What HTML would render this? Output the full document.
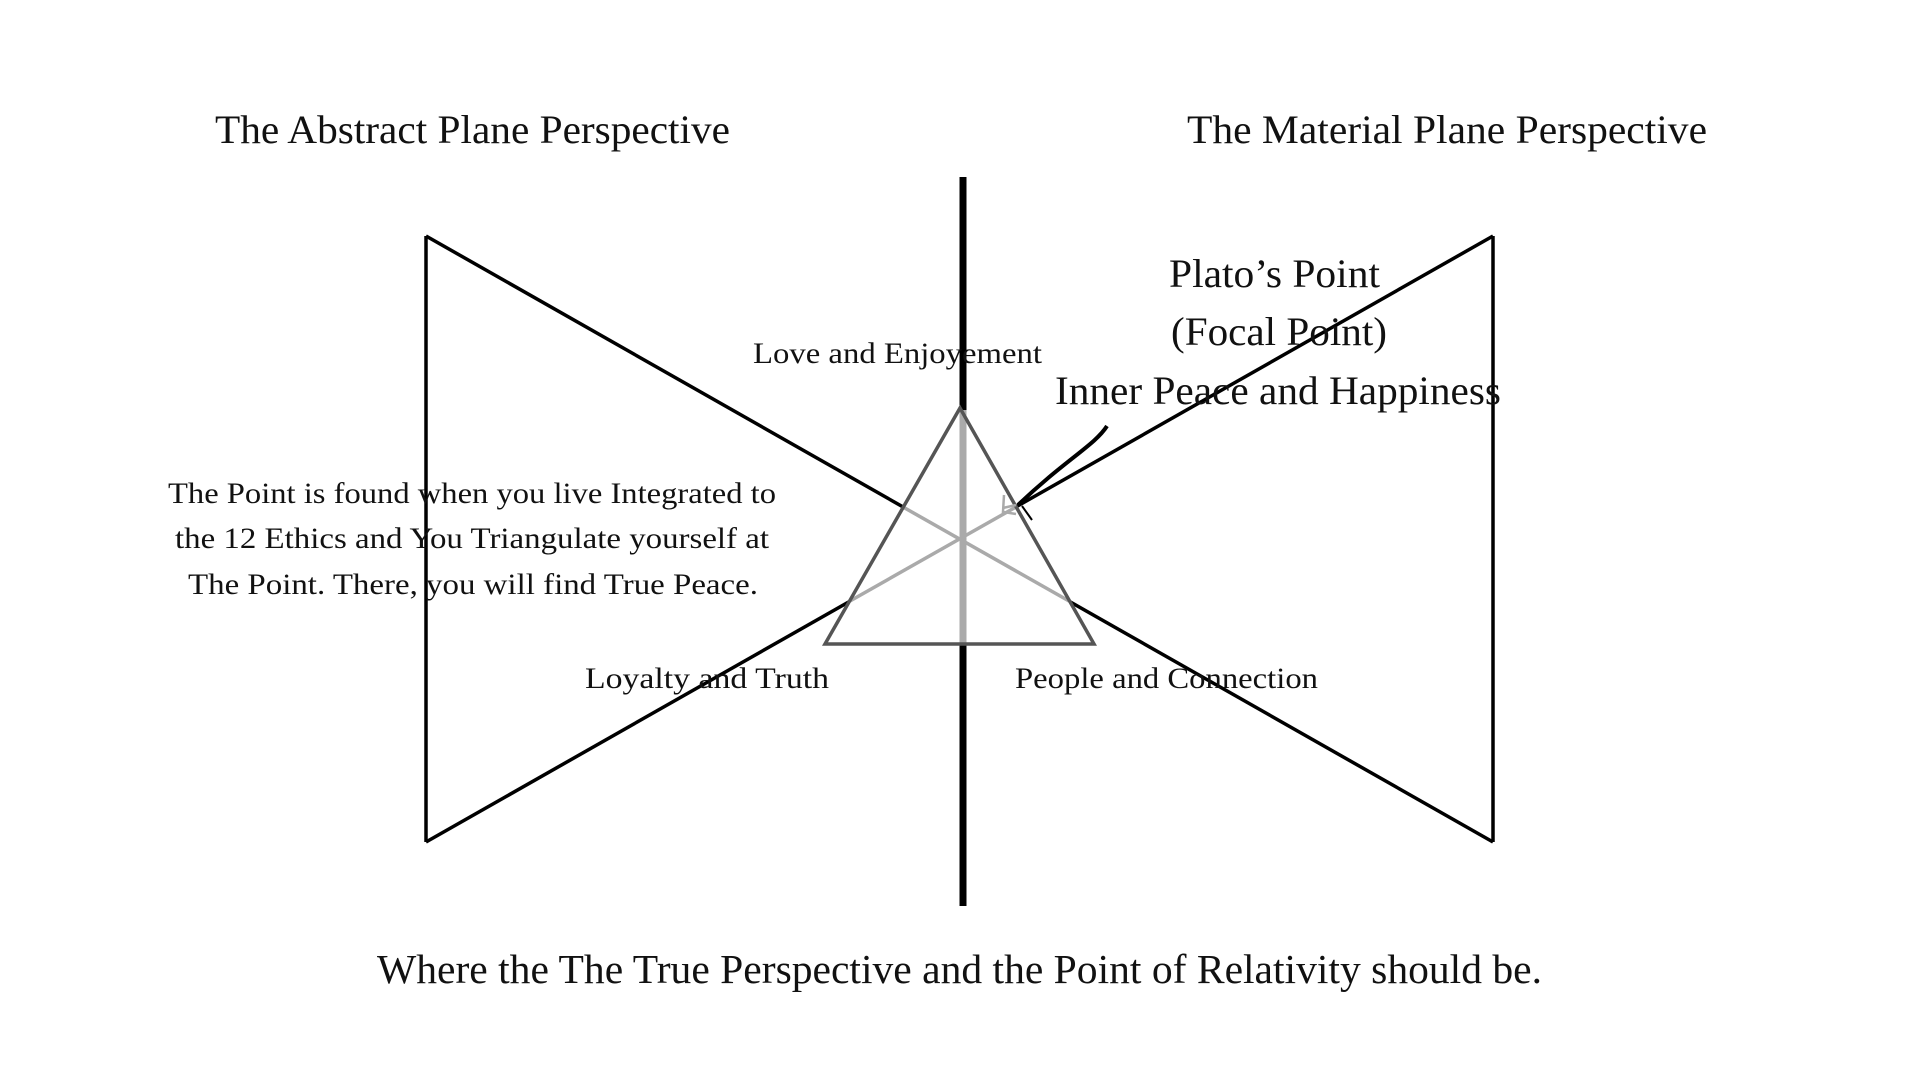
<!DOCTYPE html>
<html><head><meta charset="utf-8"><style>
html,body{margin:0;padding:0;background:#fff;}
svg{display:block;}
text{font-family:"Liberation Serif",serif;fill:#111;}
</style></head><body>
<svg width="1920" height="1080" viewBox="0 0 1920 1080" xmlns="http://www.w3.org/2000/svg">
<rect width="1920" height="1080" fill="#fff"/>
<!-- bowtie -->
<g stroke="#000" stroke-width="3.5" fill="none">
<line x1="426" y1="236" x2="426" y2="842"/>
<line x1="1493" y1="236" x2="1493" y2="842"/>
<line x1="426" y1="236" x2="1493" y2="842"/>
<line x1="426" y1="842" x2="1493" y2="236"/>
</g>
<!-- vertical bar -->
<line x1="963" y1="177" x2="963" y2="906" stroke="#000" stroke-width="7"/>
<!-- gray overlay inside triangle -->
<polygon points="960,408 825,644 1094,644" fill="#fff" stroke="none"/>
<g stroke="#aaa" stroke-width="3.5">
<line x1="903" y1="507" x2="1069" y2="601"/>
<line x1="850" y1="601" x2="1016" y2="507"/>
</g>
<line x1="963" y1="410" x2="963" y2="644" stroke="#aaa" stroke-width="7"/>
<polygon points="960,408 825,644 1094,644" fill="none" stroke="#555" stroke-width="3.5"/>
<path d="M1003,508 L1016,505 M1004,495 L1003,512 L1016,514" stroke="#aaa" stroke-width="2.5" fill="none"/>
<!-- arrow curve -->
<path d="M1107,426 C1095,445 1065,460 1018,505" stroke="#000" stroke-width="4" fill="none"/>
<path d="M1022,506 L1032,520" stroke="#000" stroke-width="2" fill="none"/>
<!-- titles -->
<text x="215" y="143" font-size="40" textLength="515" lengthAdjust="spacingAndGlyphs">The Abstract Plane Perspective</text>
<text x="1187" y="143" font-size="40" textLength="520" lengthAdjust="spacingAndGlyphs">The Material Plane Perspective</text>
<!-- labels -->
<text x="753" y="363" font-size="30" textLength="289" lengthAdjust="spacingAndGlyphs">Love and Enjoyement</text>
<text x="1169" y="287" font-size="40" textLength="211" lengthAdjust="spacingAndGlyphs">Plato’s Point</text>
<text x="1171" y="345" font-size="40" textLength="216" lengthAdjust="spacingAndGlyphs">(Focal Point)</text>
<text x="1055" y="404" font-size="40" textLength="446" lengthAdjust="spacingAndGlyphs">Inner Peace and Happiness</text>
<text x="168" y="503" font-size="30" textLength="608" lengthAdjust="spacingAndGlyphs">The Point is found when you live Integrated to</text>
<text x="175" y="548" font-size="30" textLength="594" lengthAdjust="spacingAndGlyphs">the 12 Ethics and You Triangulate yourself at</text>
<text x="188" y="594" font-size="30" textLength="570" lengthAdjust="spacingAndGlyphs">The Point. There, you will find True Peace.</text>
<text x="585" y="688" font-size="30" textLength="244" lengthAdjust="spacingAndGlyphs">Loyalty and Truth</text>
<text x="1015" y="688" font-size="30" textLength="303" lengthAdjust="spacingAndGlyphs">People and Connection</text>
<text x="377" y="983" font-size="41" textLength="1165" lengthAdjust="spacingAndGlyphs">Where the The True Perspective and the Point of Relativity should be.</text>
</svg>
</body></html>
